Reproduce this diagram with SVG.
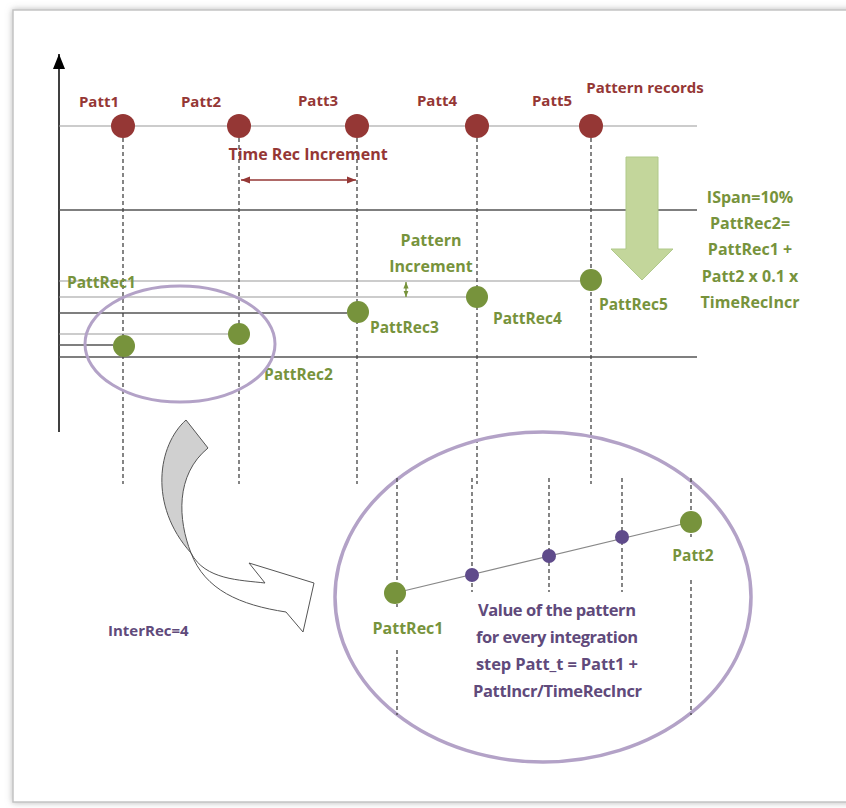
<svg xmlns="http://www.w3.org/2000/svg" width="846" height="808" viewBox="0 0 846 808">
<style>
.lbl{font-family:"Open Sans","Liberation Sans",sans-serif;font-weight:bold;}
.red{fill:#953735;font-size:15px;}
.grn{fill:#77933c;font-size:15.5px;}
.pur{fill:#604a7b;font-size:15px;}
.big{font-size:16.5px;}
.dash{stroke:#444;stroke-width:1.3;stroke-dasharray:4,3;fill:none;}
.hl{stroke:#999;stroke-width:1.2;fill:none;}
.hd{stroke:#555;stroke-width:1.4;fill:none;}
.rc{fill:#953735;}
.gc{fill:#77933c;}
.pc{fill:#5f4b8b;}
</style>
<defs>
<filter id="sh" x="-5%" y="-5%" width="110%" height="110%">
<feGaussianBlur in="SourceAlpha" stdDeviation="3"/>
<feOffset dx="0" dy="0" result="b"/>
<feFlood flood-color="#888" flood-opacity="0.6"/>
<feComposite in2="b" operator="in"/>
<feMerge><feMergeNode/><feMergeNode in="SourceGraphic"/></feMerge>
</filter>
<marker id="ah" viewBox="0 0 10 10" refX="10" refY="5" markerWidth="6" markerHeight="6" orient="auto-start-reverse">
<path d="M0,1 L10,5 L0,9 Z" fill="#953735"/>
</marker>
<marker id="ag" viewBox="0 0 10 10" refX="10" refY="5" markerWidth="5" markerHeight="5" orient="auto-start-reverse">
<path d="M0,1 L10,5 L0,9 Z" fill="#77933c"/>
</marker>
<marker id="ak" viewBox="0 0 10 10" refX="10" refY="5" markerWidth="10" markerHeight="12" orient="auto">
<path d="M0,1 L10,5 L0,9 Z" fill="#000"/>
</marker>
</defs>
<rect x="0" y="0" width="846" height="808" fill="#fff"/>
<rect x="13" y="10" width="845" height="792" fill="#fff" stroke="#c4c4c4" stroke-width="1.5" filter="url(#sh)"/>

<g id="connectors">
<line x1="59" y1="432" x2="59" y2="54" stroke="#000" stroke-width="1.5" marker-end="url(#ak)"/>
<line class="hl" x1="59" y1="126" x2="697" y2="126"/>
<line class="hd" x1="59" y1="210" x2="697" y2="210"/>
<line class="hd" x1="59" y1="357" x2="697" y2="357"/>
<line class="hl" x1="59" y1="281" x2="580" y2="281"/>
<line class="hl" x1="59" y1="297" x2="466" y2="297"/>
<line class="hd" x1="59" y1="313" x2="347" y2="313"/>
<line class="hl" x1="59" y1="334" x2="228" y2="334"/>
<line class="hd" x1="59" y1="345" x2="113" y2="345"/>
<line class="dash" x1="123" y1="138" x2="123" y2="484"/>
<line class="dash" x1="239" y1="138" x2="239" y2="484"/>
<line class="dash" x1="357" y1="138" x2="357" y2="484"/>
<line class="dash" x1="477" y1="138" x2="477" y2="484"/>
<line class="dash" x1="591" y1="138" x2="591" y2="484"/>
<line x1="241" y1="180" x2="356" y2="180" stroke="#953735" stroke-width="1.5" marker-start="url(#ah)" marker-end="url(#ah)"/>
<line x1="406" y1="282" x2="406" y2="297" stroke="#77933c" stroke-width="1.3" marker-start="url(#ag)" marker-end="url(#ag)"/>
<path d="M626,157 L658,157 L658,249 L673,249 L642,280 L611,249 L626,249 Z" fill="#c3d69b" stroke="#b0c98a" stroke-width="1"/>
<path d="M186,420 C158,445 148,505 191,553 C178,520 175,475 208,448 Z" fill="#d0d0d0" stroke="#555" stroke-width="1"/>
<path d="M191,553 C205,580 240,580 265,583 L249,563 L314,583 L303,632 L286,612 C240,605 205,590 191,553 Z" fill="#fff" stroke="#555" stroke-width="1"/>
</g>

<g id="patt1"><circle class="rc" cx="123" cy="126" r="12"/><text class="lbl red" x="99" y="107" text-anchor="middle">Patt1</text></g>
<g id="patt2"><circle class="rc" cx="239" cy="126" r="12"/><text class="lbl red" x="201" y="107" text-anchor="middle">Patt2</text></g>
<g id="patt3"><circle class="rc" cx="357" cy="126" r="12"/><text class="lbl red" x="318" y="106" text-anchor="middle">Patt3</text></g>
<g id="patt4"><circle class="rc" cx="477" cy="126" r="12"/><text class="lbl red" x="437" y="106" text-anchor="middle">Patt4</text></g>
<g id="patt5"><circle class="rc" cx="591" cy="126" r="12"/><text class="lbl red" x="552" y="106" text-anchor="middle">Patt5</text></g>
<g id="pattern-records"><text class="lbl red" x="645" y="93" text-anchor="middle">Pattern records</text></g>
<g id="time-rec-increment"><text class="lbl red" x="308" y="160" text-anchor="middle" style="font-size:16px">Time Rec Increment</text></g>

<g id="pattrec1"><circle class="gc" cx="124" cy="346" r="11"/><text class="lbl grn" x="67" y="288">PattRec1</text></g>
<g id="pattrec2"><circle class="gc" cx="239" cy="334" r="11"/><text class="lbl grn" x="264" y="380">PattRec2</text></g>
<g id="pattrec3"><circle class="gc" cx="358" cy="312" r="11"/><text class="lbl grn" x="370" y="333">PattRec3</text></g>
<g id="pattrec4"><circle class="gc" cx="477" cy="297" r="11"/><text class="lbl grn" x="493" y="324">PattRec4</text></g>
<g id="pattrec5"><circle class="gc" cx="591" cy="280" r="11"/><text class="lbl grn" x="599" y="310">PattRec5</text></g>
<g id="pattern-increment"><text class="lbl grn" x="431" y="246" text-anchor="middle" style="font-size:16px">Pattern</text><text class="lbl grn" x="431" y="272" text-anchor="middle" style="font-size:16px">Increment</text></g>
<g id="ispan-note" class="lbl grn" text-anchor="middle" style="font-size:16px">
<text x="750" y="203">ISpan=10%</text>
<text x="750" y="229">PattRec2=</text>
<text x="750" y="255">PattRec1 +</text>
<text x="750" y="282">Patt2 x 0.1 x</text>
<text x="750" y="308">TimeRecIncr</text>
</g>

<g id="small-ellipse"><ellipse cx="180" cy="344" rx="95" ry="58" fill="none" stroke="#b3a2c7" stroke-width="3"/></g>
<g id="interrec"><text class="lbl pur" x="108" y="636">InterRec=4</text></g>

<g id="zoom-ellipse">
<ellipse cx="543" cy="597" rx="208" ry="165" fill="none" stroke="#b3a2c7" stroke-width="3.5"/>
<line class="dash" x1="397" y1="478" x2="397" y2="607"/>
<line class="dash" x1="397" y1="650" x2="397" y2="715"/>
<line class="dash" x1="472" y1="478" x2="472" y2="592"/>
<line class="dash" x1="549" y1="478" x2="549" y2="592"/>
<line class="dash" x1="622" y1="478" x2="622" y2="592"/>
<line class="dash" x1="691" y1="478" x2="691" y2="537"/>
<line class="dash" x1="691" y1="580" x2="691" y2="715"/>
<line x1="395" y1="593" x2="691" y2="522" stroke="#888" stroke-width="1.2"/>
<circle class="gc" cx="395" cy="593" r="11"/>
<circle class="gc" cx="691" cy="522" r="11"/>
<circle class="pc" cx="472" cy="575" r="7"/>
<circle class="pc" cx="549" cy="556" r="7"/>
<circle class="pc" cx="622" cy="537" r="7"/>
<text class="lbl grn" x="408" y="634" text-anchor="middle" style="font-size:16px">PattRec1</text>
<text class="lbl grn" x="693" y="561" text-anchor="middle">Patt2</text>
<text class="lbl pur big" x="478" y="616" textLength="158" lengthAdjust="spacing">Value of the pattern</text>
<text class="lbl pur big" x="476" y="643" textLength="162" lengthAdjust="spacing">for every integration</text>
<text class="lbl pur big" x="476" y="670" textLength="162" lengthAdjust="spacing">step Patt_t = Patt1 +</text>
<text class="lbl pur big" x="473" y="697" textLength="169" lengthAdjust="spacing">PattIncr/TimeRecIncr</text>
</g>
</svg>
